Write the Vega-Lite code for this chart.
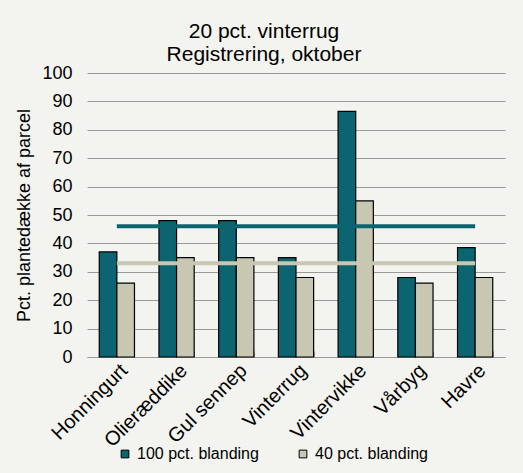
{
  "$schema": "https://vega.github.io/schema/vega-lite/v6.json",
  "width": 418,
  "height": 284,
  "autosize": "none",
  "padding": {"left": 87, "top": 73, "right": 18, "bottom": 116},
  "background": "#f3f3ef",
  "config": {
    "font": "Liberation Sans",
    "view": {"stroke": null}
  },
  "title": {
    "text": ["20 pct. vinterrug", "Registrering, oktober"],
    "fontSize": 21,
    "fontWeight": "normal",
    "color": "#000000",
    "lineHeight": 23,
    "anchor": "middle",
    "dx": -32,
    "offset": -1
  },
  "datasets": {
    "bars": [
      {"afgroede": "Honningurt", "serie": "100 pct. blanding", "pct": 37},
      {"afgroede": "Honningurt", "serie": "40 pct. blanding", "pct": 26},
      {"afgroede": "Olieræddike", "serie": "100 pct. blanding", "pct": 48},
      {"afgroede": "Olieræddike", "serie": "40 pct. blanding", "pct": 35},
      {"afgroede": "Gul sennep", "serie": "100 pct. blanding", "pct": 48},
      {"afgroede": "Gul sennep", "serie": "40 pct. blanding", "pct": 35},
      {"afgroede": "Vinterrug", "serie": "100 pct. blanding", "pct": 35},
      {"afgroede": "Vinterrug", "serie": "40 pct. blanding", "pct": 28},
      {"afgroede": "Vintervikke", "serie": "100 pct. blanding", "pct": 86.5},
      {"afgroede": "Vintervikke", "serie": "40 pct. blanding", "pct": 55},
      {"afgroede": "Vårbyg", "serie": "100 pct. blanding", "pct": 28},
      {"afgroede": "Vårbyg", "serie": "40 pct. blanding", "pct": 26},
      {"afgroede": "Havre", "serie": "100 pct. blanding", "pct": 38.5},
      {"afgroede": "Havre", "serie": "40 pct. blanding", "pct": 28}
    ],
    "gennemsnit": [
      {"afgroede": "Honningurt", "serie": "100 pct. blanding", "pct": 46},
      {"afgroede": "Havre", "serie": "100 pct. blanding", "pct": 46},
      {"afgroede": "Honningurt", "serie": "40 pct. blanding", "pct": 33},
      {"afgroede": "Havre", "serie": "40 pct. blanding", "pct": 33}
    ]
  },
  "encoding": {
    "x": {
      "field": "afgroede",
      "type": "nominal",
      "sort": ["Honningurt", "Olieræddike", "Gul sennep", "Vinterrug", "Vintervikke", "Vårbyg", "Havre"],
      "scale": {"paddingInner": 0.41, "paddingOuter": 0.205},
      "axis": {
        "title": null,
        "labelAngle": -45,
        "labelFontSize": 20,
        "labelColor": "#000000",
        "domainColor": "#9a9a9a",
        "tickColor": "#9a9a9a",
        "tickBand": "extent",
        "tickSize": -6,
        "labelPadding": 9,
        "labelDx": 4
      }
    },
    "y": {
      "field": "pct",
      "type": "quantitative",
      "scale": {"domain": [0, 100]},
      "axis": {
        "title": "Pct. plantedække af parcel",
        "titleFontSize": 18,
        "titleFontWeight": "normal",
        "titleColor": "#000000",
        "titlePadding": 8,
        "values": [0, 10, 20, 30, 40, 50, 60, 70, 80, 90, 100],
        "labelFontSize": 18,
        "labelColor": "#000000",
        "labelPadding": 15,
        "ticks": false,
        "domain": false,
        "gridColor": "#9a9a9a",
        "gridWidth": 1
      }
    }
  },
  "layer": [
    {
      "data": {"name": "bars"},
      "mark": {"type": "bar", "stroke": "#000000", "strokeWidth": 1.2},
      "encoding": {
        "xOffset": {"field": "serie", "type": "nominal"},
        "color": {
          "field": "serie",
          "type": "nominal",
          "scale": {"domain": ["100 pct. blanding", "40 pct. blanding"], "range": ["#0b6470", "#c8c7b2"]},
          "legend": {
            "title": null,
            "orient": "none",
            "direction": "horizontal",
            "legendX": 30,
            "legendY": 373,
            "labelFontSize": 16,
            "labelColor": "#000000",
            "symbolType": "square",
            "symbolSize": 60,
            "symbolStrokeColor": "#000000",
            "symbolStrokeWidth": 1,
            "labelOffset": 4,
            "columnPadding": 36
          }
        }
      }
    },
    {
      "data": {"name": "gennemsnit"},
      "transform": [{"filter": "datum.serie === '40 pct. blanding'"}],
      "mark": {"type": "line", "color": "#c8c7b2", "strokeWidth": 4},
      "encoding": {}
    },
    {
      "data": {"name": "gennemsnit"},
      "transform": [{"filter": "datum.serie === '100 pct. blanding'"}],
      "mark": {"type": "line", "color": "#0b6470", "strokeWidth": 4},
      "encoding": {}
    }
  ]
}
